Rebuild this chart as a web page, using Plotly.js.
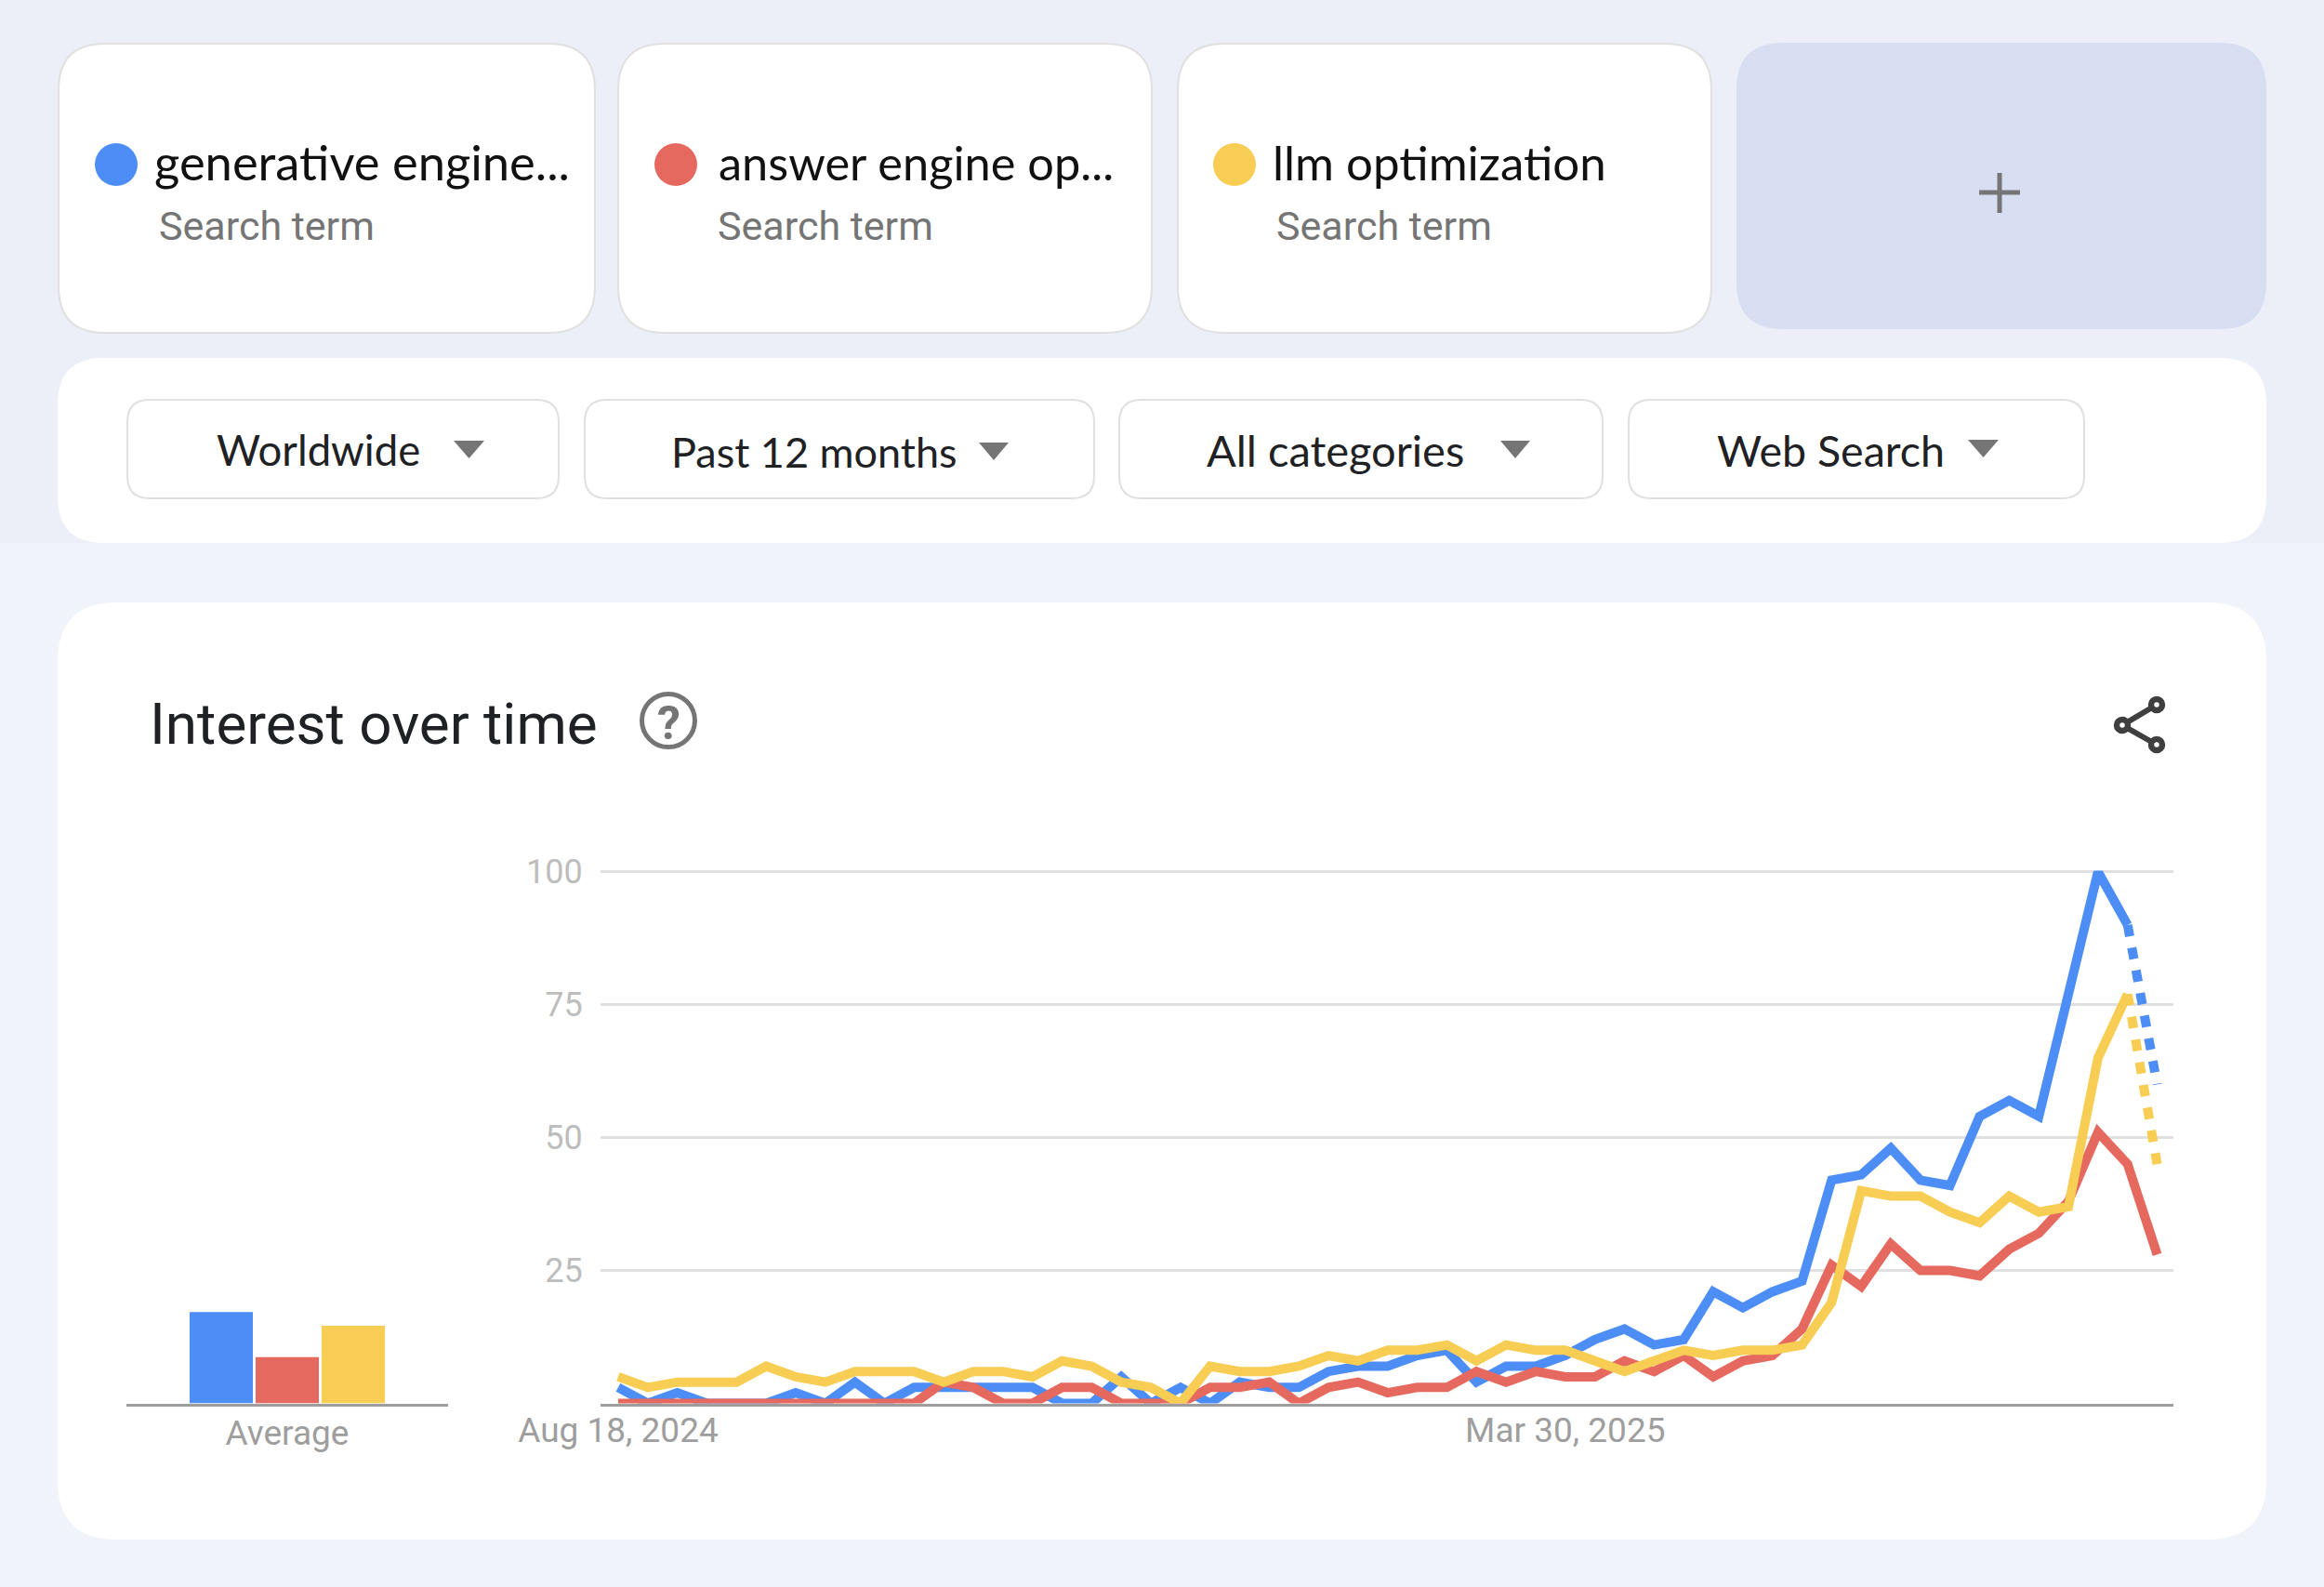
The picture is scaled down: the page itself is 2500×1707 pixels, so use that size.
<!DOCTYPE html>
<html><head><meta charset="utf-8">
<script src="https://cdn.plot.ly/plotly-3.0.1.min.js"></script>
<style>html,body{margin:0;padding:0;background:#fff}#c{width:2500px;height:1707px}</style>
</head><body><div id="c"></div>
<script>
const weeks = ["2024-08-18","2024-08-25","2024-09-01","2024-09-08","2024-09-15","2024-09-22","2024-09-29","2024-10-06","2024-10-13","2024-10-20","2024-10-27","2024-11-03","2024-11-10","2024-11-17","2024-11-24","2024-12-01","2024-12-08","2024-12-15","2024-12-22","2024-12-29","2025-01-05","2025-01-12","2025-01-19","2025-01-26","2025-02-02","2025-02-09","2025-02-16","2025-02-23","2025-03-02","2025-03-09","2025-03-16","2025-03-23","2025-03-30","2025-04-06","2025-04-13","2025-04-20","2025-04-27","2025-05-04","2025-05-11","2025-05-18","2025-05-25","2025-06-01","2025-06-08","2025-06-15","2025-06-22","2025-06-29","2025-07-06","2025-07-13","2025-07-20","2025-07-27","2025-08-03","2025-08-10","2025-08-17"];
const geo = [3,0,2,0,0,0,2,0,4,0,3,3,3,3,3,0,0,5,0,3,0,4,3,3,6,7,7,9,10,4,7,7,9,12,14,11,12,21,18,21,23,42,43,48,42,41,54,57,54,77,100,90];
const geoPartial = [90,60];
const aeo = [0,0,0,0,0,0,0,0,0,0,0,4,3,0,0,3,3,0,0,0,3,3,4,0,3,4,2,3,3,6,4,6,5,5,8,6,9,5,8,9,14,26,22,30,25,25,24,29,32,38,51,45,28];
const llm = [5,3,4,4,4,7,5,4,6,6,6,4,6,6,5,8,7,4,3,0,7,6,6,7,9,8,10,10,11,8,11,10,10,8,6,8,10,9,10,10,11,19,40,39,39,36,34,39,36,37,65,77];
const llmPartial = [77,45];
const averages = [17.2,8.7,14.6];
const terms = ["generative engine optimization","answer engine optimization","llm optimization"];
const colors = ["#4C8DF6","#E5695F","#F8CD53"];
const yTicks = [25,50,75,100];
const xTickVals = ["2024-08-18","2025-03-30"];
const xTickText = ["Aug 18, 2024","Mar 30, 2025"];
const W=2500,H=1707;
const X=p=>p/W, Y=p=>1-p/H;
const path=s=>s.replace(/(-?[\d.]+),(-?[\d.]+)/g,(m,a,b)=>X(+a)+','+Y(+b));
function rr(x0,y0,x1,y1,r){return path(`M${x0+r},${y0} L${x1-r},${y0} Q${x1},${y0} ${x1},${y0+r} L${x1},${y1-r} Q${x1},${y1} ${x1-r},${y1} L${x0+r},${y1} Q${x0},${y1} ${x0},${y1-r} L${x0},${y0+r} Q${x0},${y0} ${x0+r},${y0} Z`);}
const shapes=[];
function box(x0,y0,x1,y1,r,fill,line,lw){shapes.push({type:'path',xref:'paper',yref:'paper',path:rr(x0,y0,x1,y1,r),fillcolor:fill,line:{color:line||fill,width:lw||0},layer:'below'});}
function rect(x0,y0,x1,y1,fill){shapes.push({type:'rect',xref:'paper',yref:'paper',x0:X(x0),x1:X(x1),y0:Y(y1),y1:Y(y0),fillcolor:fill,line:{width:0},layer:'below'});}
function tri(x0,x1,y0,y1){shapes.push({type:'path',xref:'paper',yref:'paper',path:path(`M${x0},${y0} L${x1},${y0} L${(x0+x1)/2},${y1} Z`),fillcolor:'#757575',line:{width:0},layer:'below'});}
function circ(cx,cy,r,fill,line,lw){shapes.push({type:'circle',xref:'paper',yref:'paper',x0:X(cx-r),x1:X(cx+r),y0:Y(cy+r),y1:Y(cy-r),fillcolor:fill,line:{color:line||fill,width:lw||0},layer:'below'});}
function seg(x0,y0,x1,y1,c,w){shapes.push({type:'line',xref:'paper',yref:'paper',x0:X(x0),x1:X(x1),y0:Y(y0),y1:Y(y1),line:{color:c,width:w},layer:'below'});}
rect(0,0,W,584,'#ECEFF8');rect(0,584,W,H,'#F0F3F9');
box(63,47,640,358,50,'#FFFFFF','#E0E0E0',2);box(665,47,1239,358,50,'#FFFFFF','#E0E0E0',2);box(1267,47,1841,358,50,'#FFFFFF','#E0E0E0',2);
box(1868,46,2438,354,50,'#D7DEF2');
box(62,385,2438,584,50,'#FFFFFF');
box(137,430,601,536,24,'#FFFFFF','#E0E0E0',2);box(629,430,1177,536,24,'#FFFFFF','#E0E0E0',2);box(1204,430,1724,536,24,'#FFFFFF','#E0E0E0',2);box(1752,430,2242,536,24,'#FFFFFF','#E0E0E0',2);
box(62,648,2438,1656,64,'#FFFFFF');
circ(125,177,23,colors[0]);circ(727,177,23,colors[1]);circ(1328,177,23,colors[2]);
tri(488,521,474,493);tri(1053,1085,476,495);tri(1614,1646,474,493);tri(2117,2150,473,492);
seg(2129,207,2173,207,'#757575',5);seg(2151,186,2151,229,'#757575',5);
circ(719,775,28.5,'rgba(0,0,0,0)','#757575',5);
seg(2283,780,2320,758,'#3F3F3F',6);seg(2283,780,2320,801,'#3F3F3F',6);
circ(2283,780,6,'#FFFFFF','#3F3F3F',6.5);circ(2320,758,6,'#FFFFFF','#3F3F3F',6.5);circ(2320,801,6,'#FFFFFF','#3F3F3F',6.5);
function note(t,x,base,size,color,fam,anchor){return {text:t,xref:'paper',yref:'paper',x:X(x),y:Y(base),xanchor:anchor||'left',yanchor:'bottom',showarrow:false,font:{family:fam||'Roboto',size,color},borderpad:0,xshift:0,yshift:-size*0.27};}
const sans='Lato';
const annotations=[
 note('generative engine...',165,192,52.5,'#111111',sans),
 note('answer engine op...',772,192,50.5,'#111111',sans),
 note('llm optimization',1368,192,51,'#111111',sans),
 note('Search term',170,257,43,'#757575'),note('Search term',771,257,43,'#757575'),note('Search term',1372,257,43,'#757575'),
 note('Worldwide',232,500,45.5,'#202124',sans),note('Past 12 months',721,502,45,'#202124',sans),note('All categories',1297,500,47,'#202124',sans),note('Web Search',1846,500,46.5,'#202124',sans),
 note('Interest over time',160,799,62,'#202124'),
 note('<b>?</b>',719,794,50,'#757575','Roboto','center')
];
const common={mode:'lines',hoverinfo:'skip',showlegend:false,xaxis:'x',yaxis:'y'};
const solidWeeks=weeks.slice(0,52), tailWeeks=weeks.slice(51,53);
const data=[
 {...common,x:solidWeeks,y:geo,line:{color:colors[0],width:10}},
 {...common,x:tailWeeks,y:geoPartial,line:{color:colors[0],width:10,dash:'12.4px,12.4px'}},
 {...common,x:weeks,y:aeo,line:{color:colors[1],width:10}},
 {...common,x:solidWeeks,y:llm,line:{color:colors[2],width:10}},
 {...common,x:tailWeeks,y:llmPartial,line:{color:colors[2],width:10,dash:'12.4px,12.4px'}},
 {type:'bar',x:terms,y:averages,marker:{color:colors,line:{width:0}},xaxis:'x2',yaxis:'y2',hoverinfo:'skip',showlegend:false}
];
const tickFontY={family:'Roboto',size:36,color:'#BDBDBD'},tickFontX={family:'Roboto',size:37,color:'#9E9E9E'};
const plotTop=936.6, plotBottom=1509.5;
const layout={width:W,height:H,margin:{l:0,r:0,t:0,b:0},paper_bgcolor:'#FFFFFF',plot_bgcolor:'rgba(0,0,0,0)',showlegend:false,bargap:0.042,shapes,annotations,
 xaxis:{type:'date',domain:[X(646),X(2338)],range:['2024-08-13 20:00','2025-08-20 20:00'],tickmode:'array',tickvals:xTickVals,ticktext:xTickText,tickfont:tickFontX,showgrid:false,zeroline:false,showline:true,linecolor:'#9E9E9E',linewidth:3,layer:'below traces',ticks:'',ticklabelstandoff:-6,anchor:'y',automargin:false},
 yaxis:{domain:[Y(plotBottom),Y(plotTop)],range:[0,100.2],tickmode:'array',tickvals:yTicks,ticktext:yTicks.map(String),tickfont:tickFontY,showgrid:true,gridcolor:'#E0E0E0',gridwidth:3,zeroline:false,showline:false,ticks:'outside',ticklen:11,tickcolor:'rgba(0,0,0,0)',layer:'below traces',anchor:'x',automargin:false},
 xaxis2:{type:'category',domain:[X(136),X(482)],range:[-1.437,3.437],tickmode:'array',tickvals:[terms[1]],ticktext:['Average'],tickfont:tickFontX,showgrid:false,zeroline:false,showline:true,linecolor:'#9E9E9E',linewidth:3,layer:'below traces',ticks:'',ticklabelstandoff:-3,anchor:'y2',automargin:false},
 yaxis2:{domain:[Y(plotBottom),Y(plotTop)],range:[0,100.2],showticklabels:false,showgrid:false,zeroline:false,showline:false,ticks:'',anchor:'x2',automargin:false}
};
Plotly.newPlot('c',data,layout,{displayModeBar:false,responsive:false});
</script></body></html>
